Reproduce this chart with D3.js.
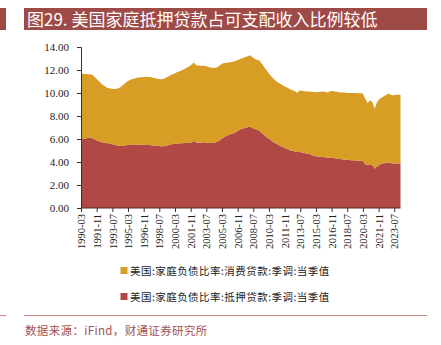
<!DOCTYPE html>
<html><head><meta charset="utf-8">
<script src="https://cdn.jsdelivr.net/npm/d3@7"></script>
<style>
html,body{margin:0;padding:0;background:#fff;}
svg{display:block;}
</style></head>
<body>
<script>
// ---- data (quarterly, 1990-03 .. 2024-03) ----
const startYear = 1990;
const totalRatio = [
 11.65,11.68,11.66,11.62, 11.62,11.55,11.35,11.15, 10.95,10.75,10.60,10.45, 10.42,10.38,10.35,10.36,
 10.42,10.55,10.72,10.90, 11.05,11.15,11.22,11.28, 11.32,11.36,11.38,11.40, 11.42,11.40,11.36,11.30,
 11.26,11.22,11.20,11.22, 11.32,11.42,11.55,11.62, 11.72,11.82,11.90,11.98, 12.08,12.20,12.30,12.45,
 12.65,12.42,12.40,12.38, 12.36,12.35,12.28,12.22, 12.20,12.18,12.24,12.40, 12.55,12.60,12.62,12.66,
 12.70,12.74,12.80,12.90, 12.98,13.05,13.12,13.20, 13.28,13.10,12.95,12.90, 12.80,12.55,12.25,11.95,
 11.70,11.45,11.22,11.05, 10.90,10.78,10.66,10.55, 10.45,10.32,10.25,10.18, 10.00,10.22,10.20,10.16,
 10.13,10.12,10.10,10.08, 10.06,10.08,10.10,10.12, 10.10,10.04,10.15,10.17, 10.12,10.10,10.06,10.04,
 10.04,10.02,10.01,10.00, 10.00,10.00,9.98,9.97, 9.95,9.50,9.10,9.37, 9.22,8.64,9.22,9.45,
 9.60,9.72,9.85,9.95, 9.82,9.80,9.84,9.86, 9.82
];
const mortgageRatio = [
 5.97,6.00,6.05,6.10, 6.10,6.05,5.95,5.85, 5.78,5.72,5.68,5.64, 5.62,5.58,5.50,5.45,
 5.42,5.39,5.40,5.45, 5.50,5.54,5.52,5.50, 5.48,5.50,5.50,5.49, 5.48,5.47,5.46,5.44,
 5.42,5.40,5.38,5.37, 5.40,5.45,5.52,5.56, 5.58,5.60,5.62,5.64, 5.65,5.65,5.68,5.70,
 5.83,5.70,5.68,5.70, 5.72,5.70,5.68,5.66, 5.67,5.70,5.78,5.90, 6.05,6.18,6.28,6.38,
 6.45,6.50,6.60,6.75, 6.88,6.92,6.98,7.02, 7.08,6.95,6.88,6.80, 6.72,6.50,6.35,6.18,
 6.02,5.88,5.72,5.60, 5.50,5.40,5.30,5.20, 5.10,5.02,4.97,4.92, 4.88,4.86,4.82,4.78,
 4.74,4.70,4.62,4.55, 4.50,4.47,4.45,4.44, 4.42,4.40,4.38,4.36, 4.33,4.30,4.27,4.25,
 4.22,4.20,4.18,4.16, 4.15,4.13,4.11,4.10, 4.09,3.80,3.71,3.80, 3.72,3.42,3.62,3.75,
 3.86,3.90,3.93,3.95, 3.90,3.86,3.86,3.88, 3.90
];
const xTickLabels = ["1990-03","1991-11","1993-07","1995-03","1996-11","1998-07","2000-03","2001-11",
 "2003-07","2005-03","2006-11","2008-07","2010-03","2011-11","2013-07","2015-03","2016-11","2018-07",
 "2020-03","2021-11","2023-07"];
const yTicks = [0,2,4,6,8,10,12,14];
const seriesNames = ["美国:家庭负债比率:消费贷款:季调:当季值","美国:家庭负债比率:抵押贷款:季调:当季值"];
const seriesColors = ["#D89D24","#B04845"];
const titleText = "图29. 美国家庭抵押贷款占可支配收入比例较低";
const sourceText = "数据来源：iFind，财通证券研究所";

// ---- build table ----
const parse = d3.timeParse("%Y-%m");
const rows = totalRatio.map((t,i)=>{
  const date = new Date(startYear + Math.floor(i/4), 2 + 3*(i%4), 1);
  return {date, mortgage: mortgageRatio[i], consumer: +(t - mortgageRatio[i]).toFixed(3)};
});

const W = 441, H = 345;
const svg = d3.select("body").append("svg").attr("width",W).attr("height",H);
const cjk = "'Noto Sans CJK SC','Noto Sans CJK JP',sans-serif";
const serif = "'Liberation Serif','Times New Roman',serif";

// title bar
svg.append("rect").attr("x",0).attr("y",8).attr("width",6).attr("height",22).attr("fill","#9E4A46");
svg.append("rect").attr("x",24).attr("y",8).attr("width",403).attr("height",22).attr("fill","#9E4A46");
svg.append("text").attr("x",27).attr("y",25.5).attr("fill","#fff")
  .style("font-family",cjk).style("font-size","17px").text(titleText);

// scales
const x = d3.scaleTime().domain([rows[0].date, rows[rows.length-1].date]).range([81, 400.5]);
const y = d3.scaleLinear().domain([0,14]).range([208, 47]);

const stack = d3.stack().keys(["mortgage","consumer"]);
const layers = stack(rows);
const area = d3.area().x(d=>x(d.data.date)).y0(d=>y(d[0])).y1(d=>y(d[1])).curve(d3.curveLinear);
const colorByKey = {consumer: seriesColors[0], mortgage: seriesColors[1]};
svg.append("g").selectAll("path").data(layers).join("path")
  .attr("d",area).attr("fill",d=>colorByKey[d.key]);

// y axis
const yAxis = d3.axisLeft(y).tickValues(yTicks).tickFormat(d3.format(".2f")).tickSize(4).tickPadding(8);
const gy = svg.append("g").attr("transform","translate(81,0)").call(yAxis);
gy.selectAll("text").style("font-family",serif).style("font-size","11px").attr("fill","#222");
gy.selectAll("line,path").attr("stroke","#333");

// x axis
const xTicks = xTickLabels.map(parse);
const xAxis = d3.axisBottom(x).tickValues(xTicks).tickFormat(d3.timeFormat("%Y-%m")).tickSize(4).tickSizeOuter(0).tickPadding(3);
const gx = svg.append("g").attr("transform","translate(0,208)").call(xAxis);
gx.select(".domain").attr("d", `M81,0H400.5`).attr("stroke","#5a2a28").attr("stroke-width",1.2);
gx.selectAll("line").attr("stroke","#333");
gx.selectAll("text").style("font-family",serif).style("font-size","10.5px").attr("fill","#222")
  .attr("transform","rotate(-90)").attr("text-anchor","end").attr("dx","-6").attr("dy","0.35em").attr("x",0).attr("y",0);

// legend
const lg = svg.append("g");
[0,1].forEach(i=>{
  const yy = 272 + i*26;
  lg.append("rect").attr("x",120.5).attr("y",yy-5).attr("width",7).attr("height",7).attr("fill",seriesColors[i]);
  lg.append("text").attr("x",130).attr("y",yy+2.5).style("font-family",cjk).style("font-size","10.5px")
    .style("letter-spacing","0.45px").attr("fill","#222").text(seriesNames[i]);
});

// footer
svg.append("line").attr("x1",0).attr("x2",6).attr("y1",315.5).attr("y2",315.5).attr("stroke","#C98A86").attr("stroke-width",1);
svg.append("line").attr("x1",24).attr("x2",427).attr("y1",315.5).attr("y2",315.5).attr("stroke","#C98A86").attr("stroke-width",1);
svg.append("text").attr("x",25).attr("y",335).style("font-family",cjk).style("font-size","11.5px")
  .style("letter-spacing","0.35px").attr("fill","#A0524D").text(sourceText);
</script>
</body></html>
